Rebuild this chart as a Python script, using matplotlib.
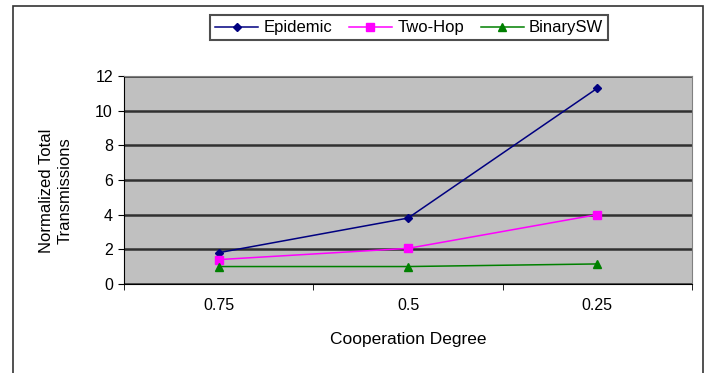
import matplotlib
matplotlib.use('Agg')
import matplotlib.pyplot as plt
from matplotlib.patches import Rectangle

plt.rcParams['font.family'] = ['Liberation Sans', 'DejaVu Sans']

# Data
categories = ['0.75', '0.5', '0.25']
epidemic = [1.8, 3.8, 11.3]
two_hop = [1.4, 2.05, 4.0]
binary_sw = [1.0, 1.0, 1.15]

fig = plt.figure(figsize=(7.09, 3.73), dpi=100)
ax = fig.add_axes([0.175, 0.239, 0.801, 0.557])

# chart border (bottom edge runs off the image)
fig.patches.append(Rectangle((0.019, -0.05), 0.973, 1.035, transform=fig.transFigure,
                             fill=False, edgecolor='#333333', linewidth=1.2))

x = list(range(len(categories)))
ax.plot(x, epidemic, 'D-', color='#000080', linewidth=1.1, markersize=4.5, label='Epidemic')
ax.plot(x, two_hop, 's-', color='#FF00FF', linewidth=1.1, markersize=5.5, label='Two-Hop')
ax.plot(x, binary_sw, '^-', color='#008000', linewidth=1.1, markersize=5.5, label='BinarySW')

ax.set_facecolor('#C0C0C0')
ax.set_xlim(-0.5, 2.5)
ax.set_ylim(0, 12)
ax.set_yticks(range(0, 13, 2))
ax.set_xticks(x)
ax.set_xticklabels(categories)
ax.set_xticks([-0.5, 0.5, 1.5, 2.5], minor=True)
ax.tick_params(axis='x', which='major', length=0, labelsize=11.5, pad=10)
ax.tick_params(axis='x', which='minor', length=4, direction='out')
ax.tick_params(axis='y', labelsize=11.5, length=4, direction='out', pad=4)

ax.grid(True, axis='y', color='#303030', linewidth=1.8)
ax.set_axisbelow(True)
for side in ['top', 'right']:
    ax.spines[side].set_color('#808080')
ax.spines['left'].set_color('black')
ax.spines['bottom'].set_color('black')

ax.set_xlabel('Cooperation Degree', fontsize=12.5, labelpad=14)
ax.set_ylabel('Normalized Total\nTransmissions', fontsize=12, linespacing=1.3)
ax.yaxis.set_label_coords(-0.09, 0.45)

leg = fig.legend(loc='center', bbox_to_anchor=(0.577, 0.925), ncol=3, fontsize=12,
                 frameon=True, fancybox=False, edgecolor='#222222',
                 handlelength=2.6, columnspacing=1.0, handletextpad=0.3,
                 borderpad=0.3)
leg.get_frame().set_linewidth(1.5)

plt.savefig('out.png', dpi=100)
